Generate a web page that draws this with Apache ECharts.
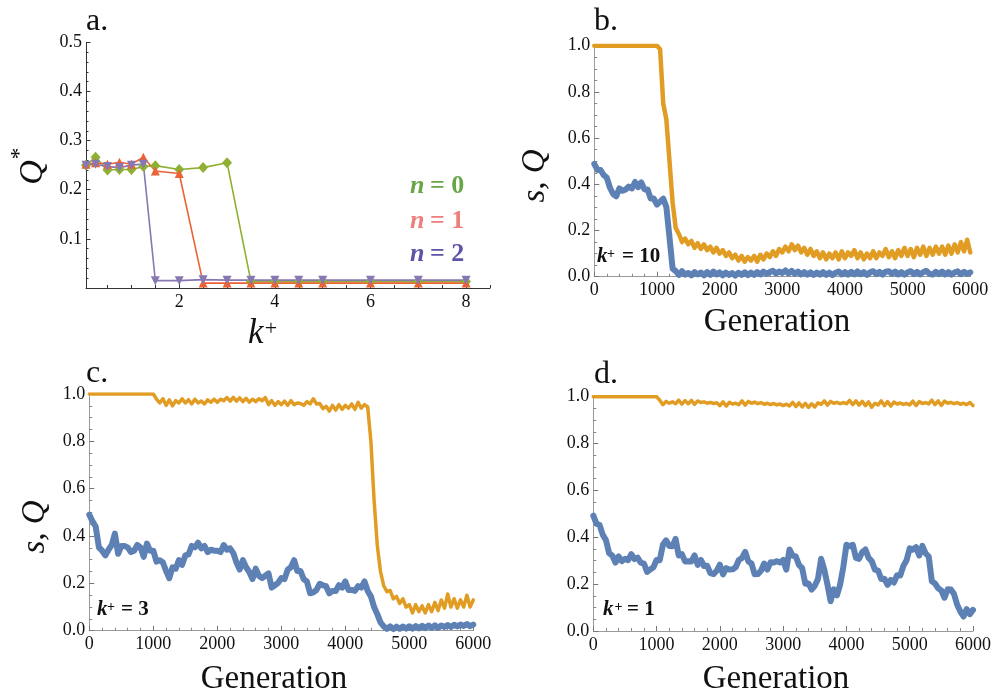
<!DOCTYPE html>
<html>
<head>
<meta charset="utf-8">
<script src="https://cdn.jsdelivr.net/npm/echarts@6/dist/echarts.min.js"></script>
<style>
  html, body { margin: 0; padding: 0; background: #ffffff; }
  #chart { width: 994px; height: 694px; }
</style>
</head>
<body>
<div id="chart"></div>
<script>
// ---- Panel a: stationary Q* against k+ for n = 0, 1, 2 ----
const kPlus   = [0.05, 0.25, 0.5, 0.75, 1, 1.25, 1.5, 2, 2.5, 3, 3.5, 4, 4.5, 5, 6, 7, 8];
const qStarN0 = [0.250, 0.266, 0.240, 0.241, 0.241, 0.247, 0.249, 0.241, 0.245, 0.255, 0.013, 0.013, 0.013, 0.013, 0.013, 0.013, 0.013];
const qStarN1 = [0.252, 0.255, 0.252, 0.256, 0.252, 0.266, 0.238, 0.233, 0.010, 0.010, 0.010, 0.010, 0.010, 0.010, 0.010, 0.010, 0.010];
const qStarN2 = [0.250, 0.252, 0.247, 0.245, 0.250, 0.252, 0.015, 0.015, 0.017, 0.016, 0.016, 0.016, 0.016, 0.016, 0.016, 0.016, 0.016];
const kTickLabels = [2, 4, 6, 8];
const kMinorTicks = [0.5, 1, 1.5, 2, 2.5, 3, 3.5, 4, 4.5, 5, 5.5, 6, 6.5, 7, 7.5, 8, 8.5];

// ---- Panels b-d: s (blue) and Q (orange) per generation, sampled every 50 ----
const generations = Array.from({ length: 121 }, (_, i) => i * 50);

// b. k+ = 10
const qB = [
  1, 1, 1, 1, 1, 1, 1, 1, 1, 1,
  1, 1, 1, 1, 1, 1, 1, 1, 1, 1,
  1, 0.985, 0.75, 0.68, 0.50, 0.32, 0.21, 0.185, 0.15, 0.165,
  0.14, 0.155, 0.125, 0.145, 0.12, 0.14, 0.115, 0.13, 0.105, 0.125,
  0.10, 0.115, 0.09, 0.105, 0.08, 0.095, 0.07, 0.09, 0.065, 0.085,
  0.07, 0.09, 0.065, 0.095, 0.075, 0.10, 0.085, 0.11, 0.09, 0.12,
  0.105, 0.13, 0.11, 0.14, 0.115, 0.135, 0.105, 0.125, 0.095, 0.12,
  0.09, 0.11, 0.08, 0.105, 0.075, 0.10, 0.08, 0.105, 0.075, 0.11,
  0.08, 0.105, 0.09, 0.115, 0.08, 0.105, 0.075, 0.10, 0.08, 0.11,
  0.08, 0.105, 0.09, 0.12, 0.085, 0.11, 0.08, 0.115, 0.09, 0.125,
  0.09, 0.12, 0.085, 0.125, 0.095, 0.13, 0.09, 0.125, 0.095, 0.13,
  0.10, 0.13, 0.095, 0.135, 0.10, 0.14, 0.105, 0.15, 0.11, 0.16,
  0.105
];
const sB = [
  0.488, 0.462, 0.462, 0.44, 0.428, 0.385, 0.358, 0.348, 0.382, 0.372,
  0.378, 0.39, 0.382, 0.41, 0.388, 0.408, 0.378, 0.378, 0.338, 0.338,
  0.312, 0.325, 0.338, 0.302, 0.17, 0.035, 0.024, 0.008, 0.024, 0.009,
  0.016, 0.006, 0.02, 0.01, 0.018, 0.006, 0.02, 0.008, 0.022, 0.01,
  0.019, 0.006, 0.018, 0.008, 0.016, 0.005, 0.017, 0.008, 0.019, 0.007,
  0.018, 0.008, 0.02, 0.01, 0.022, 0.012, 0.02, 0.026, 0.014, 0.022,
  0.016, 0.027, 0.014, 0.025, 0.012, 0.022, 0.01, 0.02, 0.009, 0.019,
  0.008, 0.018, 0.009, 0.02, 0.008, 0.018, 0.007, 0.017, 0.022, 0.01,
  0.02, 0.009, 0.021, 0.01, 0.023, 0.011, 0.02, 0.008, 0.019, 0.024,
  0.011, 0.021, 0.009, 0.022, 0.024, 0.012, 0.022, 0.01, 0.02, 0.009,
  0.019, 0.024, 0.011, 0.021, 0.01, 0.02, 0.025, 0.012, 0.009, 0.021,
  0.011, 0.022, 0.01, 0.02, 0.009, 0.019, 0.023, 0.011, 0.021, 0.012,
  0.019
];

// c. k+ = 3
const qC = [
  1, 1, 1, 1, 1, 1, 1, 1, 1, 1,
  1, 1, 1, 1, 1, 1, 1, 1, 1, 1,
  1, 0.978, 0.962, 0.98, 0.952, 0.975, 0.95, 0.972, 0.962, 0.98,
  0.962, 0.976, 0.958, 0.978, 0.962, 0.97, 0.958, 0.975, 0.965, 0.978,
  0.965, 0.978, 0.972, 0.985, 0.97, 0.986, 0.97, 0.984, 0.968, 0.982,
  0.966, 0.978, 0.968, 0.98, 0.972, 0.985, 0.955, 0.972, 0.952, 0.968,
  0.955, 0.97, 0.952, 0.972, 0.955, 0.962, 0.96, 0.952, 0.968, 0.958,
  0.98, 0.958, 0.96, 0.938, 0.948, 0.928, 0.952, 0.932, 0.955, 0.935,
  0.952, 0.94, 0.958, 0.935, 0.965, 0.94, 0.955, 0.945, 0.80, 0.55,
  0.36, 0.25, 0.19, 0.165, 0.17, 0.135, 0.145, 0.115, 0.135, 0.10,
  0.11, 0.075, 0.11, 0.08, 0.105, 0.075, 0.11, 0.08, 0.12, 0.085,
  0.13, 0.095, 0.155, 0.10, 0.135, 0.095, 0.13, 0.10, 0.15, 0.10,
  0.13
];
const sC = [
  0.49, 0.462, 0.44, 0.352, 0.338, 0.318, 0.342, 0.362, 0.41, 0.325,
  0.358, 0.358, 0.352, 0.332, 0.338, 0.362, 0.352, 0.312, 0.368, 0.338,
  0.338, 0.292, 0.298, 0.288, 0.252, 0.222, 0.268, 0.262, 0.298, 0.278,
  0.318, 0.322, 0.358, 0.352, 0.372, 0.348, 0.358, 0.332, 0.342, 0.338,
  0.338, 0.332, 0.362, 0.342, 0.348, 0.328, 0.288, 0.258, 0.298, 0.268,
  0.248, 0.218, 0.262, 0.232, 0.222, 0.232, 0.242, 0.182, 0.192, 0.202,
  0.222, 0.218, 0.258, 0.268, 0.298, 0.252, 0.252, 0.218, 0.208, 0.158,
  0.162, 0.172, 0.198, 0.192, 0.188, 0.158, 0.168, 0.168, 0.192, 0.182,
  0.208, 0.172, 0.172, 0.168, 0.188, 0.182, 0.208, 0.168, 0.145, 0.10,
  0.07, 0.035, 0.018, 0.008, 0.018, 0.007, 0.017, 0.008, 0.018, 0.009,
  0.019, 0.009, 0.02, 0.01, 0.021, 0.011, 0.022, 0.012, 0.023, 0.012,
  0.022, 0.016, 0.024, 0.016, 0.025, 0.018, 0.026, 0.02, 0.028, 0.019,
  0.026
];

// d. k+ = 1
const qD = [
  1, 1, 1, 1, 1, 1, 1, 1, 1, 1,
  1, 1, 1, 1, 1, 1, 1, 1, 1, 1,
  1, 0.985, 0.966, 0.98, 0.972, 0.978, 0.97, 0.985, 0.968, 0.983,
  0.97, 0.984, 0.967, 0.982, 0.975, 0.978, 0.972, 0.976, 0.971, 0.974,
  0.962, 0.978, 0.96, 0.976, 0.969, 0.972, 0.966, 0.982, 0.964, 0.98,
  0.972, 0.977, 0.97, 0.975, 0.968, 0.972, 0.966, 0.971, 0.965, 0.969,
  0.962, 0.968, 0.961, 0.976, 0.958, 0.974, 0.956, 0.972, 0.954, 0.97,
  0.956, 0.974, 0.967, 0.982, 0.964, 0.98, 0.972, 0.976, 0.97, 0.975,
  0.97, 0.984, 0.966, 0.982, 0.964, 0.98, 0.962, 0.978, 0.955, 0.972,
  0.965, 0.982, 0.962, 0.979, 0.96, 0.977, 0.969, 0.973, 0.967, 0.971,
  0.965, 0.981, 0.962, 0.979, 0.971, 0.975, 0.969, 0.985, 0.966, 0.982,
  0.963, 0.981, 0.972, 0.976, 0.97, 0.975, 0.968, 0.972, 0.966, 0.975,
  0.962
];
const sD = [
  0.492, 0.458, 0.452, 0.41, 0.388, 0.332, 0.322, 0.292, 0.318, 0.298,
  0.308, 0.302, 0.328, 0.307, 0.313, 0.292, 0.288, 0.252, 0.263, 0.272,
  0.303, 0.302, 0.368, 0.387, 0.363, 0.362, 0.393, 0.322, 0.328, 0.297,
  0.298, 0.297, 0.323, 0.282, 0.303, 0.277, 0.278, 0.247, 0.243, 0.257,
  0.283, 0.242, 0.268, 0.262, 0.263, 0.272, 0.303, 0.312, 0.338, 0.297,
  0.288, 0.242, 0.243, 0.257, 0.288, 0.262, 0.293, 0.292, 0.298, 0.292,
  0.303, 0.262, 0.348, 0.322, 0.318, 0.282, 0.268, 0.202, 0.203, 0.177,
  0.193, 0.222, 0.308, 0.262, 0.198, 0.127, 0.178, 0.152, 0.198, 0.272,
  0.368, 0.362, 0.368, 0.312, 0.308, 0.337, 0.348, 0.312, 0.298, 0.262,
  0.258, 0.222, 0.223, 0.197, 0.218, 0.207, 0.238, 0.237, 0.278, 0.302,
  0.353, 0.347, 0.358, 0.322, 0.363, 0.332, 0.318, 0.212, 0.203, 0.182,
  0.173, 0.142, 0.178, 0.177, 0.158, 0.112, 0.083, 0.062, 0.093, 0.072,
  0.09
];
const genTickLabels = [0, 1000, 2000, 3000, 4000, 5000, 6000];

// ---- styling ----
const SERIF = 'Liberation Serif';
const BLUE = '#5E81B5', ORANGE = '#E19C24';
const GREEN = '#8FB032', RED = '#EB6235', PURPLE = '#8778B3';
const GRAY_AXIS = '#9a9a9a';

const pair = (xs, ys) => xs.map((x, i) => [x, ys[i]]);

// tick labels go through a rich-text style so the serif face is applied explicitly
const tickRich = { t: { fontFamily: SERIF, fontSize: 18, fontWeight: 'normal', fontStyle: 'normal', color: '#111' } };
const richLabel = fmt => v => { const s = fmt(v); return s === '' ? '' : '{t|' + s + '}'; };

function genXAxis(gridIndex) {
  return {
    type: 'value', gridIndex, min: 0, max: 6000, interval: 1000,
    axisLine: { lineStyle: { color: GRAY_AXIS, width: 1 } },
    axisTick: { inside: true, length: 5, lineStyle: { color: '#777' } },
    minorTick: { show: true, splitNumber: 5, length: 3, lineStyle: { color: '#888' } },
    axisLabel: { margin: 5, customValues: genTickLabels, fontFamily: SERIF, fontSize: 18,
                 formatter: richLabel(v => String(v)), rich: tickRich },
    splitLine: { show: false }
  };
}
function sqYAxis(gridIndex) {
  return {
    type: 'value', gridIndex, min: 0, max: 1, interval: 0.2,
    axisLine: { lineStyle: { color: GRAY_AXIS, width: 1 } },
    axisTick: { inside: true, length: 5, lineStyle: { color: '#777' } },
    minorTick: { show: true, splitNumber: 4, length: 3, lineStyle: { color: '#888' } },
    axisLabel: { margin: 4, fontFamily: SERIF, fontSize: 18,
                 formatter: richLabel(v => v.toFixed(1)), rich: tickRich },
    splitLine: { show: false }
  };
}
function traceSeries(xAxisIndex, yAxisIndex, values, color, width) {
  return {
    type: 'line', xAxisIndex, yAxisIndex, data: pair(generations, values),
    symbol: 'none', showSymbol: false, silent: true,
    lineStyle: { color, width, join: 'round', cap: 'round' }
  };
}
function label(x, y, text, size, opt) {
  return {
    type: 'text', x, y, rotation: (opt && opt.rotation) || 0, silent: true,
    style: {
      text, fontFamily: SERIF, fontSize: size,
      fontStyle: (opt && opt.italic) ? 'italic' : 'normal',
      fontWeight: (opt && opt.bold) ? 'bold' : 'normal',
      fill: (opt && opt.color) || '#111',
      align: (opt && opt.align) || 'left', verticalAlign: 'middle'
    }
  };
}

const option = {
  backgroundColor: '#ffffff',
  animation: false,
  textStyle: { fontFamily: SERIF },
  grid: [
    { left: 86,    top: 42.3,  width: 404, height: 245.7 },
    { left: 594.3, top: 45.7,  width: 376, height: 231 },
    { left: 89.3,  top: 394,   width: 384, height: 236.7 },
    { left: 593.3, top: 396.7, width: 380, height: 234.3 }
  ],
  xAxis: [
    {
      type: 'value', gridIndex: 0, min: 0.05, max: 8.5,
      axisLine: { lineStyle: { color: '#333', width: 1 } },
      axisTick: { inside: true, length: 3, customValues: kMinorTicks, lineStyle: { color: '#333' } },
      axisLabel: { show: false },
      splitLine: { show: false }
    },
    {
      type: 'value', gridIndex: 0, min: 0.05, max: 8.5, position: 'bottom',
      axisLine: { show: false },
      axisTick: { inside: true, length: 5, customValues: kTickLabels, lineStyle: { color: '#333' } },
      axisLabel: { margin: 5, customValues: kTickLabels, fontFamily: SERIF, fontSize: 18,
                   formatter: richLabel(v => String(v)), rich: tickRich },
      splitLine: { show: false }
    },
    genXAxis(1), genXAxis(2), genXAxis(3)
  ],
  yAxis: [
    {
      type: 'value', gridIndex: 0, min: 0, max: 0.5, interval: 0.1,
      axisLine: { lineStyle: { color: '#333', width: 1 } },
      axisTick: { inside: true, length: 4.5, lineStyle: { color: '#333' } },
      minorTick: { show: true, splitNumber: 5, length: 2.5, lineStyle: { color: '#333' } },
      axisLabel: { margin: 4, fontFamily: SERIF, fontSize: 18,
                   formatter: richLabel(v => (v === 0 ? '' : v.toFixed(1))), rich: tickRich },
      splitLine: { show: false }
    },
    sqYAxis(1), sqYAxis(2), sqYAxis(3)
  ],
  series: [
    {
      type: 'line', xAxisIndex: 0, yAxisIndex: 0, data: pair(kPlus, qStarN0),
      symbol: 'diamond', symbolSize: [10, 11],
      lineStyle: { color: GREEN, width: 1.6 }, itemStyle: { color: GREEN }
    },
    {
      type: 'line', xAxisIndex: 0, yAxisIndex: 0, data: pair(kPlus, qStarN1),
      symbol: 'triangle', symbolSize: 9,
      lineStyle: { color: RED, width: 1.6 }, itemStyle: { color: RED }
    },
    {
      type: 'line', xAxisIndex: 0, yAxisIndex: 0, data: pair(kPlus, qStarN2),
      symbol: 'triangle', symbolRotate: 180, symbolSize: 9,
      lineStyle: { color: PURPLE, width: 1.6 }, itemStyle: { color: PURPLE }
    },
    traceSeries(2, 1, sB, BLUE, 6),
    traceSeries(2, 1, qB, ORANGE, 4.5),
    traceSeries(3, 2, sC, BLUE, 6),
    traceSeries(3, 2, qC, ORANGE, 3.5),
    traceSeries(4, 3, sD, BLUE, 6),
    traceSeries(4, 3, qD, ORANGE, 3.5)
  ],
  graphic: [
    // panel letters
    label(86, 22, 'a.', 32),
    label(594, 22, 'b.', 32),
    label(86, 374, 'c.', 32),
    label(594, 375, 'd.', 32),
    // panel a axis titles
    label(248, 334, 'k', 35, { italic: true }),
    label(271, 329, '+', 22, { align: 'center' }),
    label(33.5, 172.5, 'Q', 34, { italic: true, align: 'center', rotation: Math.PI / 2 }),
    label(20, 153.5, '*', 24, { align: 'center', rotation: Math.PI / 2 }),
    // panel a legend
    label(410, 186, 'n', 26, { italic: true, bold: true, color: '#6aa548' }),
    label(430, 186, '= 0', 26, { bold: true, color: '#6aa548' }),
    label(410, 221, 'n', 26, { italic: true, bold: true, color: '#ec7f7c' }),
    label(430, 221, '= 1', 26, { bold: true, color: '#ec7f7c' }),
    label(410, 254, 'n', 26, { italic: true, bold: true, color: '#5b54a6' }),
    label(430, 254, '= 2', 26, { bold: true, color: '#5b54a6' }),
    // time-series axis titles
    label(777, 322, 'Generation', 33, { align: 'center' }),
    label(274, 679, 'Generation', 33, { align: 'center' }),
    label(776, 679, 'Generation', 33, { align: 'center' }),
    label(535, 176, 's, Q', 33, { italic: true, align: 'center', rotation: Math.PI / 2 }),
    label(35, 527, 's, Q', 33, { italic: true, align: 'center', rotation: Math.PI / 2 }),
    // k+ annotations
    label(597, 256.5, 'k', 21, { italic: true, bold: true }),
    label(611, 254, '+', 14, { bold: true, align: 'center' }),
    label(622, 256.5, '= 10', 21, { bold: true }),
    label(97, 610, 'k', 21, { italic: true, bold: true }),
    label(111, 607.5, '+', 14, { bold: true, align: 'center' }),
    label(121, 610, '= 3', 21, { bold: true }),
    label(603, 610, 'k', 21, { italic: true, bold: true }),
    label(618.5, 607.5, '+', 14, { bold: true, align: 'center' }),
    label(627, 610, '= 1', 21, { bold: true })
  ]
};

const chart = echarts.init(document.getElementById('chart'), null, { renderer: 'canvas' });
chart.setOption(option);
</script>
</body>
</html>
